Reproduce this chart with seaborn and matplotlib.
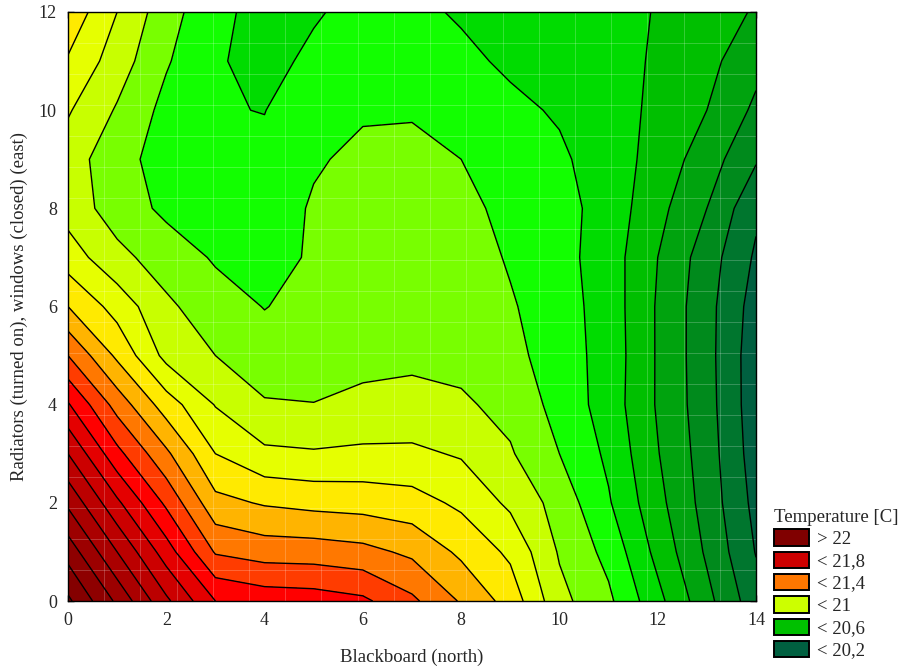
import numpy as np
import matplotlib
matplotlib.use("Agg")
import matplotlib.pyplot as plt
from matplotlib.patches import Patch
import seaborn as sns

# -----------------------------
# Data (temperature, grid nodes)
# -----------------------------
blackboard_x = [0, 1, 2, 3, 4, 5, 6, 7, 8, 9, 10, 11, 12, 13, 14]
radiators_y = [0, 1, 2, 3, 4, 5, 6, 7, 8, 9, 10, 11, 12]

# one row per radiators_y value (bottom -> top)
temp_y0 = [22.32, 22.08, 21.82, 21.60, 21.56, 21.55, 21.52, 21.42, 21.29, 21.16, 20.93, 20.82, 20.63, 20.43, 20.24]
temp_y1 = [22.16, 21.90, 21.65, 21.39, 21.355, 21.35, 21.33, 21.28, 21.18, 21.08, 20.89, 20.77, 20.57, 20.385, 20.195]
temp_y2 = [21.98, 21.72, 21.48, 21.23, 21.19, 21.17, 21.16, 21.14, 21.08, 20.98, 20.86, 20.71, 20.53, 20.36, 20.17]
temp_y3 = [21.80, 21.53, 21.32, 21.10, 21.02, 21.01, 21.02, 21.02, 20.99, 20.91, 20.80, 20.68, 20.505, 20.35, 20.15]
temp_y4 = [21.61, 21.36, 21.15, 20.995, 20.91, 20.902, 20.92, 20.93, 20.915, 20.87, 20.765, 20.655, 20.49, 20.34, 20.14]
temp_y5 = [21.40, 21.18, 20.97, 20.90, 20.84, 20.86, 20.875, 20.88, 20.87, 20.83, 20.75, 20.66, 20.49, 20.335, 20.14]
temp_y6 = [21.20, 21.06, 20.92, 20.84, 20.797, 20.83, 20.86, 20.865, 20.86, 20.81, 20.745, 20.655, 20.49, 20.335, 20.155]
temp_y7 = [21.05, 20.93, 20.85, 20.79, 20.77, 20.81, 20.85, 20.86, 20.85, 20.79, 20.735, 20.65, 20.50, 20.35, 20.185]
temp_y8 = [20.96, 20.85, 20.78, 20.76, 20.75, 20.81, 20.84, 20.85, 20.83, 20.77, 20.735, 20.66, 20.53, 20.40, 20.22]
temp_y9 = [20.95, 20.835, 20.76, 20.74, 20.72, 20.79, 20.82, 20.83, 20.80, 20.75, 20.715, 20.655, 20.56, 20.45, 20.31]
temp_y10 = [21.01, 20.89, 20.77, 20.705, 20.698, 20.76, 20.79, 20.79, 20.76, 20.72, 20.69, 20.64, 20.58, 20.50, 20.38]
temp_y11 = [21.09, 20.95, 20.81, 20.71, 20.67, 20.72, 20.75, 20.75, 20.72, 20.685, 20.66, 20.63, 20.59, 20.53, 20.43]
temp_y12 = [21.17, 21.00, 20.84, 20.73, 20.66, 20.69, 20.73, 20.72, 20.69, 20.67, 20.64, 20.63, 20.595, 20.55, 20.49]

# contour levels 20.2 .. 22.3 step 0.1
levels = [20.2, 20.3, 20.4, 20.5, 20.6, 20.7, 20.8, 20.9, 21.0, 21.1, 21.2,
          21.3, 21.4, 21.5, 21.6, 21.7, 21.8, 21.9, 22.0, 22.1, 22.2, 22.3]
band_colors = ["#006040", "#00762e", "#008a1c", "#00a30e", "#00bf00", "#00dc00",
               "#12ff00", "#78ff00", "#c8ff00", "#e6ff00", "#ffea00", "#ffb400",
               "#ff7800", "#ff3c00", "#ff0000", "#e40000", "#cc0000", "#bb0000",
               "#aa0000", "#9c0000", "#8e0000", "#840000", "#7a0000"]

legend_labels = ["> 22", "< 21,8", "< 21,4", "< 21", "< 20,6", "< 20,2"]
legend_colors = ["#800000", "#cc0000", "#ff7700", "#ccff00", "#00c000", "#006040"]

# -----------------------------
# Style
# -----------------------------
sns.set_theme(style="ticks")
plt.rcParams["font.family"] = ["Liberation Serif", "DejaVu Serif"]

Z = np.array([temp_y0, temp_y1, temp_y2, temp_y3, temp_y4, temp_y5, temp_y6,
              temp_y7, temp_y8, temp_y9, temp_y10, temp_y11, temp_y12])
X, Y = np.meshgrid(blackboard_x, radiators_y)

fig = plt.figure(figsize=(9.02, 6.68), dpi=100)
ax = fig.add_axes([68 / 902, 1 - 601 / 668, (756 - 68) / 902, (601 - 12) / 668])

fill_levels = [Z.min() - 1] + levels + [Z.max() + 1]
ax.contourf(X, Y, Z, levels=fill_levels, colors=band_colors)

# faint surface mesh like the original (19 x 19 cells)
ax.vlines(np.linspace(0, 14, 20), 0, 12, colors="white", alpha=0.22, linewidth=0.7)
ax.hlines(np.linspace(0, 12, 20), 0, 14, colors="white", alpha=0.22, linewidth=0.7)

ax.contour(X, Y, Z, levels=levels, colors="black", linewidths=1.0)

ax.set_xlim(0, 14)
ax.set_ylim(0, 12)
ax.set_xticks(range(0, 15, 2))
ax.set_yticks(range(0, 13, 2))
ax.set_xticks(range(1, 14, 2), minor=True)
ax.set_yticks(range(1, 12, 2), minor=True)
ax.tick_params(which="both", direction="in", length=4, width=1,
               top=True, right=True, color="black")
ax.tick_params(which="major", labelsize=13, pad=8)
for sp in ax.spines.values():
    sp.set_color("black")
    sp.set_linewidth(1.0)

ax.set_xlabel("Blackboard (north)", fontsize=13.5, labelpad=14)
ax.set_ylabel("Radiators (turned on), windows (closed) (east)", fontsize=13.5, labelpad=8)

handles = [Patch(facecolor=c, edgecolor="black", linewidth=1.4) for c in legend_colors]
leg = fig.legend(handles, legend_labels, title="Temperature [C]",
                 loc="lower left", bbox_to_anchor=(763 / 902, -0.004),
                 frameon=False, fontsize=13.5, title_fontsize=13.5,
                 handlelength=1.85, handleheight=0.95, labelspacing=0.2,
                 handletextpad=0.45, borderaxespad=0.2)
leg._legend_box.align = "left"

fig.savefig("out.png", dpi=100)
